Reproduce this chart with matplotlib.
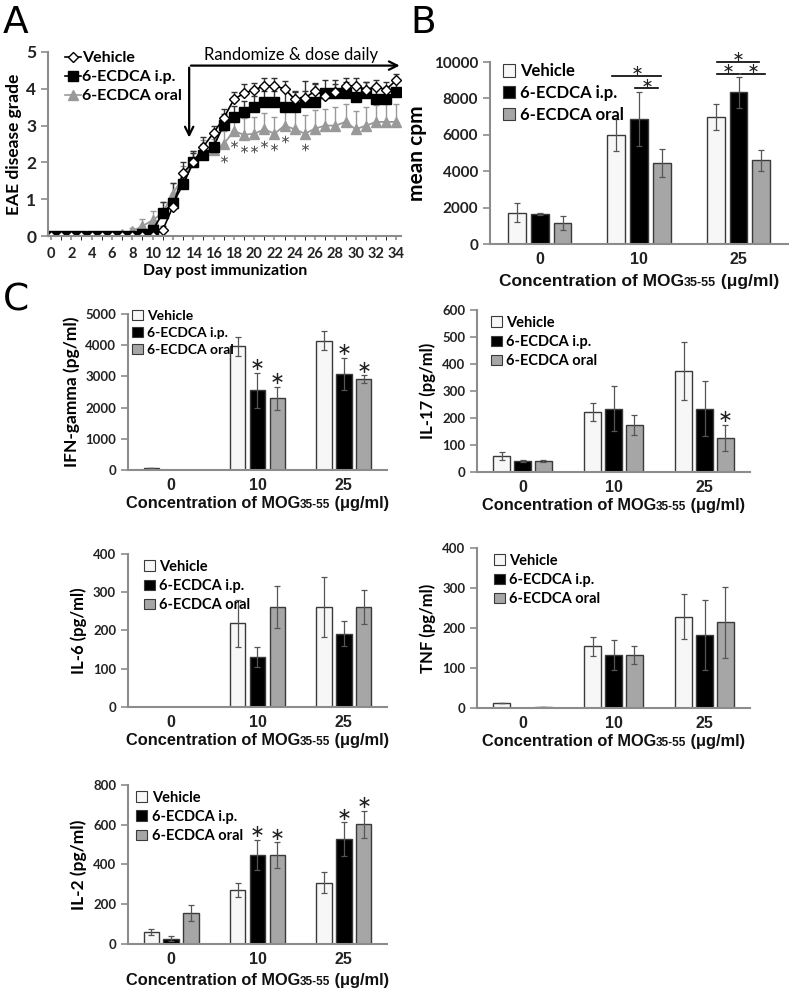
import numpy as np
import matplotlib.pyplot as plt
from matplotlib.patches import Patch
from matplotlib.lines import Line2D
from matplotlib.offsetbox import TextArea, HPacker, AnnotationBbox

plt.rcParams['font.family'] = ['Lato', 'DejaVu Sans']

# ---------------- data ----------------
groups = ['Vehicle', '6-ECDCA i.p.', '6-ECDCA oral']
conc = ['0', '10', '25']

days = np.arange(0, 35)
veh_grade = [0, 0, 0, 0, 0, 0, 0, 0, 0, 0, 0, 0.16, 0.8, 1.72, 2.0, 2.43, 2.8, 3.2,
             3.71, 3.88, 3.97, 4.08, 4.08, 4.0, 3.71, 3.75, 3.94, 3.8, 3.92, 4.08,
             4.08, 3.98, 4.05, 3.98, 4.24]
veh_err = [0, 0, 0, 0, 0, 0, 0, 0, 0, 0, 0, 0.1, 0.3, 0.3, 0.25, 0.25, 0.2, 0.25,
           0.2, 0.25, 0.2, 0.2, 0.2, 0.2, 0.2, 0.2, 0.2, 0.2, 0.2, 0.2, 0.2, 0.2,
           0.2, 0.2, 0.15]
ip_grade = [0, 0, 0, 0, 0, 0, 0, 0, 0, 0.05, 0.16, 0.62, 0.9, 1.4, 2.0, 2.2, 2.43,
            3.02, 3.22, 3.38, 3.51, 3.65, 3.65, 3.5, 3.5, 3.65, 3.65, 3.88, 3.88,
            3.88, 3.79, 3.88, 3.71, 3.71, 3.92]
ip_err = [0, 0, 0, 0, 0, 0, 0, 0, 0, 0, 0.1, 0.3, 0.55, 0.35, 0.3, 0.3, 0.3, 0.3,
          0.3, 0.3, 0.3, 0.3, 0.3, 0.45, 0.45, 0.55, 0.5, 0.35, 0.35, 0.3, 0.3,
          0.3, 0.4, 0.35, 0.3]
oral_grade = [0, 0, 0, 0, 0, 0, 0, 0.05, 0.13, 0.27, 0.43, 0.63, 1.15, 1.6, 2.0,
              2.3, 2.33, 2.5, 2.85, 2.75, 2.78, 2.9, 2.78, 3.0, 2.9, 2.78, 2.92,
              3.0, 3.0, 3.1, 2.9, 3.0, 3.1, 3.1, 3.1]
oral_err = [0, 0, 0, 0, 0, 0, 0, 0.05, 0.1, 0.2, 0.25, 0.3, 0.3, 0.3, 0.3, 0.3,
            0.3, 0.35, 0.45, 0.45, 0.45, 0.45, 0.45, 0.45, 0.5, 0.5, 0.5, 0.45,
            0.5, 0.5, 0.5, 0.5, 0.45, 0.5, 0.5]
star_days = [17, 18, 19, 20, 21, 22, 23, 25]
star_y = [2.09, 2.5, 2.36, 2.36, 2.5, 2.41, 2.64, 2.41]

cpm_mean = [[1730, 5990, 6980], [1650, 6870, 8340], [1160, 4450, 4600]]
cpm_err = [[530, 880, 720], [50, 1470, 850], [380, 790, 590]]

ifn_mean = [[60, 3960, 4140], [10, 2550, 3080], [10, 2300, 2910]]
ifn_err = [[0, 300, 300], [0, 560, 520], [0, 370, 130]]
il17_mean = [[58, 222, 375], [41, 235, 235], [42, 175, 126]]
il17_err = [[15, 32, 108], [5, 82, 101], [4, 37, 47]]
il6_mean = [[0, 219, 261], [0, 130, 192], [0, 261, 261]]
il6_err = [[0, 61, 78], [0, 26, 33], [0, 55, 44]]
tnf_mean = [[12, 154, 228], [0, 132, 182], [3, 132, 214]]
tnf_err = [[0, 23, 56], [0, 37, 88], [0, 23, 88]]
il2_mean = [[60, 271, 308], [27, 447, 528], [158, 447, 602]]
il2_err = [[17, 34, 53], [13, 76, 84], [40, 64, 67]]

AXC = '#8c8c8c'
BAR_FC = ['#f7f7f7', '#000000', '#a6a6a6']
ERRC = '#555555'
STAR = r'$\ast$'

fig = plt.figure(figsize=(7.89, 9.9), dpi=100)


def style_axes(ax):
    for s in ['top', 'right']:
        ax.spines[s].set_visible(False)
    for s in ['left', 'bottom']:
        ax.spines[s].set_color(AXC)
        ax.spines[s].set_linewidth(1.5)
    ax.tick_params(colors=AXC, width=1.2)
    ax.tick_params(labelcolor='#222222')


def mog_label(ax, dy=-30, fs=11.8):
    tp = dict(fontfamily='Liberation Sans', fontweight='bold', fontsize=fs, color='#111111')
    sp = dict(fontfamily='Liberation Sans', fontweight='bold', fontsize=fs * 0.72, color='#111111')
    box = HPacker(children=[TextArea('Concentration of MOG', textprops=tp),
                            TextArea('35-55', textprops=sp),
                            TextArea(' (\u03bcg/ml)', textprops=tp)],
                  align='baseline', pad=0, sep=0)
    ab = AnnotationBbox(box, (0.5, 0), xycoords='axes fraction', xybox=(0, dy),
                        boxcoords='offset points', frameon=False, box_alignment=(0.5, 0.5))
    ax.add_artist(ab)


def bar_panel(rect, means, errs, ymax, ystep, ylabel, stars=(), leg_anchor=(0.02, 1.05),
              leg_fs=10.5, tick_fs=9.5, ylab_fs=12, ylab_pad=4):
    ax = fig.add_axes(rect)
    x = np.arange(len(conc))
    w = 0.18
    off = [-0.23, 0, 0.23]
    for i in range(3):
        ax.bar(x + off[i], means[i], w, color=BAR_FC[i], edgecolor='#3a3a3a', linewidth=1.0,
               yerr=errs[i], error_kw=dict(ecolor=ERRC, elinewidth=0.9, capsize=2, capthick=0.9))
    for (gi, ci) in stars:
        ax.plot(ci + off[gi], means[gi][ci] + errs[gi][ci] + ymax * 0.055, marker=STAR,
                ms=8, mew=0, color='#222222', clip_on=False)
    ax.set_xlim(-0.5, 2.5)
    ax.set_ylim(0, ymax)
    ax.set_yticks(np.arange(0, ymax + 1, ystep))
    ax.set_xticks(x)
    ax.set_xticklabels(conc, fontfamily='Liberation Sans', fontweight='bold', fontsize=11.5)
    ax.tick_params(axis='x', length=0, pad=6)
    ax.tick_params(axis='y', direction='out', length=5, labelsize=tick_fs)
    for t in ax.get_yticklabels():
        t.set_fontweight('bold')
    style_axes(ax)
    ax.set_ylabel(ylabel, fontsize=ylab_fs, fontweight='bold', labelpad=ylab_pad)
    handles = [Patch(facecolor=BAR_FC[i], edgecolor='#3a3a3a', linewidth=0.8) for i in range(3)]
    ax.legend(handles, groups, loc='upper left', bbox_to_anchor=leg_anchor, frameon=False,
              handlelength=0.75, handleheight=0.75, handletextpad=0.3, labelspacing=0.35,
              borderaxespad=0, prop=dict(weight='bold', size=leg_fs))
    return ax


# ---------------- panel A ----------------
axA = fig.add_axes([0.0608, 0.7616, 0.448, 0.1859])
axA.errorbar(days, oral_grade, yerr=[np.zeros(35), oral_err], color='#999999', lw=1.3,
             marker='^', ms=7.5, mfc='#999999', mec='#999999', ecolor='#999999', elinewidth=1,
             capsize=2)
axA.errorbar(days, ip_grade, yerr=[np.zeros(35), ip_err], color='black', lw=1.3,
             marker='s', ms=6.5, mfc='black', mec='black', ecolor='#333333', elinewidth=1,
             capsize=2)
axA.errorbar(days, veh_grade, yerr=[np.zeros(35), veh_err], color='black', lw=1.2,
             marker='D', ms=5, mfc='white', mec='black', mew=1, ecolor='#333333',
             elinewidth=1, capsize=2)
axA.plot(star_days, star_y, linestyle='none', marker=STAR, ms=5.5, mew=0, color='#555555')
axA.set_xlim(-0.3, 34.5)
axA.set_ylim(0, 5)
axA.set_xticks(np.arange(0, 35, 2))
axA.set_xticks(np.arange(0, 35, 1), minor=True)
axA.set_yticks(np.arange(0, 6, 1))
axA.tick_params(axis='x', which='both', direction='out', length=3, labelsize=10.5, pad=5)
axA.tick_params(axis='y', direction='out', length=5, labelsize=12.5)
for t in axA.get_xticklabels() + axA.get_yticklabels():
    t.set_fontweight('bold')
style_axes(axA)
axA.set_xlabel('Day post immunization', fontsize=11.5, fontweight='bold', labelpad=2)
axA.set_ylabel('EAE disease grade', fontsize=12.5, fontweight='bold', labelpad=3)
# randomize arrows
axA.annotate('', xy=(34.6, 4.63), xytext=(13.5, 4.63), annotation_clip=False,
             arrowprops=dict(arrowstyle='->,head_length=0.6,head_width=0.3', lw=1.6, color='black'))
axA.annotate('', xy=(13.6, 2.6), xytext=(13.6, 4.65), annotation_clip=False,
             arrowprops=dict(arrowstyle='->,head_length=0.6,head_width=0.3', lw=1.6, color='black'))
axA.text(23.6, 4.7, 'Randomize & dose daily', ha='center', va='bottom', fontsize=12)
legA = [Line2D([0], [0], color='black', marker='D', ms=5, mfc='white', mec='black', lw=1.2),
        Line2D([0], [0], color='black', marker='s', ms=6.5, lw=1.2),
        Line2D([0], [0], color='#999999', marker='^', ms=7.5, lw=1.2)]
axA.legend(legA, groups, loc='upper left', bbox_to_anchor=(0.03, 1.04), frameon=False,
           handlelength=1.0, handletextpad=0.05, labelspacing=0.3, borderaxespad=0,
           markerfirst=True, prop=dict(weight='bold', size=11.5))

# ---------------- panel B ----------------
axB = bar_panel([0.621, 0.7535, 0.378, 0.1838], cpm_mean, cpm_err, 10000, 2000, 'mean cpm',
                leg_anchor=(0.02, 1.03), leg_fs=12, tick_fs=11, ylab_fs=15, ylab_pad=5)
mog_label(axB, dy=-27, fs=12.5)
sig = [(0.73, 1.22, 9250), (0.96, 1.19, 8550), (1.78, 2.21, 10000), (1.78, 2.0, 9350),
       (2.03, 2.27, 9350)]
for x0, x1, yy in sig:
    axB.plot([x0, x1], [yy, yy], color='black', lw=1.2, clip_on=False)
    axB.plot((x0 + x1) / 2, yy + 310, marker=STAR, ms=6.5, mew=0, color='#222222',
             clip_on=False)

# ---------------- panel C ----------------
axC1 = bar_panel([0.1622, 0.5253, 0.3283, 0.1576], ifn_mean, ifn_err, 5000, 1000,
                 'IFN-gamma (pg/ml)', stars=[(1, 1), (2, 1), (1, 2), (2, 2)],
                 leg_anchor=(-0.005, 1.06), leg_fs=10, ylab_fs=12.5)
mog_label(axC1, dy=-24)
axC2 = bar_panel([0.6046, 0.5232, 0.346, 0.1636], il17_mean, il17_err, 600, 100,
                 'IL-17 (pg/ml)', stars=[(2, 2)], leg_anchor=(0.03, 1.0))
mog_label(axC2, dy=-24)
axC3 = bar_panel([0.1622, 0.2859, 0.3283, 0.1545], il6_mean, il6_err, 400, 100,
                 'IL-6 (pg/ml)', leg_anchor=(0.04, 1.0))
mog_label(axC3, dy=-24)
axC4 = bar_panel([0.6046, 0.2848, 0.346, 0.1616], tnf_mean, tnf_err, 400, 100,
                 'TNF (pg/ml)', leg_anchor=(0.04, 1.0))
mog_label(axC4, dy=-24)
axC5 = bar_panel([0.1622, 0.0465, 0.3283, 0.1606], il2_mean, il2_err, 800, 200,
                 'IL-2 (pg/ml)', stars=[(1, 1), (2, 1), (1, 2), (2, 2)],
                 leg_anchor=(0.01, 1.0), ylab_fs=12.5)
mog_label(axC5, dy=-26)

# panel letters
fig.text(0.004, 0.995, 'A', fontsize=27, va='top', fontfamily='DejaVu Sans')
fig.text(0.52, 0.995, 'B', fontsize=27, va='top', fontfamily='DejaVu Sans')
fig.text(0.004, 0.715, 'C', fontsize=27, va='top', fontfamily='DejaVu Sans')

fig.savefig('out.png', dpi=100)
